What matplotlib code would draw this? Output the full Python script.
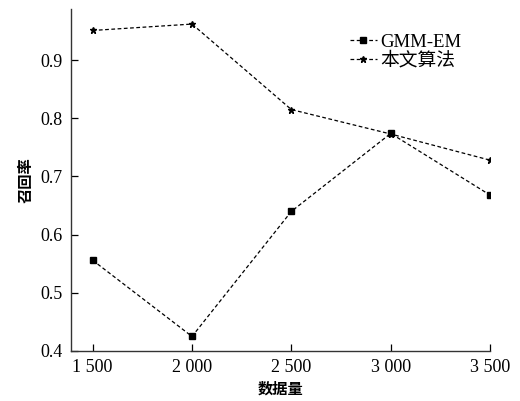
import matplotlib
matplotlib.use("Agg")
import matplotlib.pyplot as plt

plt.rcParams['font.family'] = ['Liberation Serif', 'Noto Sans CJK SC']

sizes = [1500, 2000, 2500, 3000, 3500]
gmm_em = [0.556, 0.425, 0.640, 0.774, 0.668]
ours = [0.951, 0.962, 0.815, 0.773, 0.728]
x_ticklabels = ['1 500', '2 000', '2 500', '3 000', '3 500']
y_ticks = [0.4, 0.5, 0.6, 0.7, 0.8, 0.9]

fig = plt.figure(figsize=(5.2, 4.01), dpi=100)
ax = fig.add_axes([0.1365, 0.1247, 0.806, 0.853])

ax.plot(sizes, gmm_em, color='black', linestyle=(0, (3, 2)), linewidth=0.9,
        marker='s', markersize=4.5, label='GMM-EM')
ax.plot(sizes, ours, color='black', linestyle=(0, (3, 2)), linewidth=0.9,
        marker='*', markersize=5, label='本文算法')

ax.set_xlim(1391, 3500)
ax.set_ylim(0.4, 0.988)
ax.set_xticks(sizes)
ax.set_xticklabels(x_ticklabels)
ax.set_yticks(y_ticks)
ax.set_yticklabels([f'{v:.1f}' for v in y_ticks])

ax.spines['top'].set_visible(False)
ax.spines['right'].set_visible(False)
for s in ('left', 'bottom'):
    ax.spines[s].set_linewidth(1.0)
    ax.spines[s].set_color('#333333')
ax.tick_params(direction='in', length=5, width=0.9, labelsize=13, pad=6)

ax.set_xlabel('数据量', fontsize=11, family=['Noto Sans CJK SC'], fontweight='bold', labelpad=3)
ax.set_ylabel('召回率', fontsize=11, family=['Noto Sans CJK SC'], fontweight='bold', labelpad=5)

ax.legend(loc='upper right', bbox_to_anchor=(0.955, 0.955), frameon=False,
          handlelength=1.45, handletextpad=0.2, labelspacing=0.05, borderpad=0,
          prop={'family': ['Liberation Serif', 'Noto Sans CJK SC'], 'size': 13.5})

fig.savefig('out.png', dpi=100)
